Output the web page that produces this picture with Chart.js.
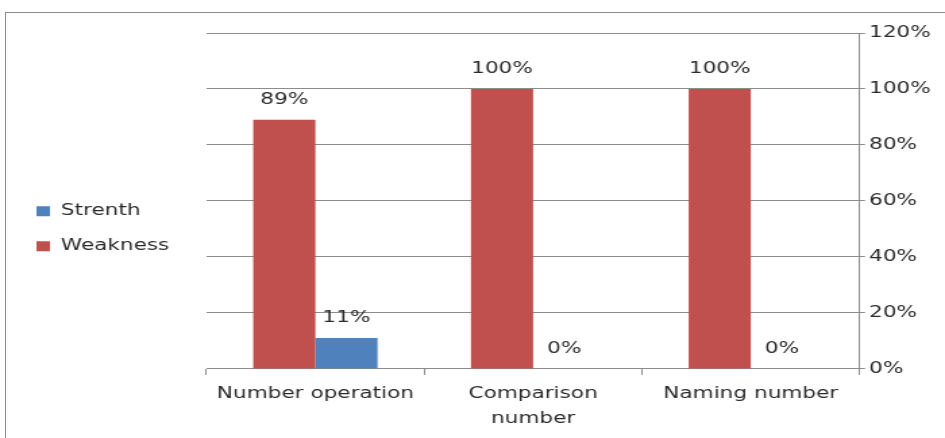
<!DOCTYPE html>
<html>
<head>
<meta charset="utf-8">
<script src="https://cdn.jsdelivr.net/npm/chart.js@4/dist/chart.umd.min.js"></script>
<style>
    html, body { margin: 0; padding: 0; background: #fff; overflow: hidden; }
    #frame {
        position: absolute; left: 5px; top: 12px; width: 960px; height: 450px;
        border: 1px solid #8c8c8c; box-sizing: border-box;
    }
    /* the chart is laid out narrow and widened, which gives the wide lettering */
    #wrap {
        position: absolute; left: 0; top: 0; width: 700px; height: 438px;
        transform: scaleX(1.35); transform-origin: 0 0;
    }
</style>
</head>
<body>
<div id="frame"></div>
<div id="wrap"><canvas id="skillsChart"></canvas></div>
<script>
const categories = [["Number operation"], ["Comparison", "number"], ["Naming number"]];
const weakness = [89, 100, 100];
const strength = [11, 0, 0];
const yTicks = [0, 20, 40, 60, 80, 100, 120];

const textColor = "#2b2b2b";
const lineColor = "#8c8c8c";
const fontFamily = "'DejaVu Sans', sans-serif";

// fixed room for the legend on the left, nudged a bit up
const legendBox = {
    id: "legendBox",
    beforeInit: function (chart) {
        const fit = chart.legend.fit;
        chart.legend.fit = function () {
            fit.call(this);
            this.width = 145;
        };
    },
    afterLayout: function (chart) {
        chart.legend.top -= 6.5;
        chart.legend.bottom -= 6.5;
    },
};

// percent labels above each bar
const valueLabels = {
    id: "valueLabels",
    afterDatasetsDraw: function (chart) {
        const ctx = chart.ctx;
        ctx.save();
        ctx.font = "16px " + fontFamily;
        ctx.fillStyle = textColor;
        ctx.textAlign = "center";
        ctx.textBaseline = "middle";
        chart.data.datasets.forEach((dataset, i) => {
            chart.getDatasetMeta(i).data.forEach((bar, j) => {
                ctx.fillText(dataset.data[j] + "%", bar.x, bar.y - 20);
            });
        });
        ctx.restore();
    },
};

var ctx = document.getElementById("skillsChart");
var skillsChart = new Chart(ctx, {
    type: "bar",
    data: {
        labels: categories,
        datasets: [
            {
                label: "Weakness",
                data: weakness,
                backgroundColor: "#c0504d",
                categoryPercentage: 0.571,
                barPercentage: 1,
            },
            {
                label: "Strenth",
                data: strength,
                backgroundColor: "#4f81bd",
                categoryPercentage: 0.571,
                barPercentage: 1,
            },
        ],
    },
    options: {
        responsive: true,
        maintainAspectRatio: false,
        animation: false,
        layout: {
            padding: { left: 8, right: 7.5, top: 33, bottom: 0.5 },
        },
        plugins: {
            tooltip: { enabled: false },
            legend: {
                position: "left",
                reverse: true,
                labels: {
                    boxWidth: 10,
                    boxHeight: 10,
                    padding: 19,
                    color: textColor,
                    font: { family: fontFamily, size: 16 },
                },
            },
        },
        scales: {
            x: {
                grid: {
                    drawOnChartArea: false,
                    tickLength: 6,
                    color: lineColor,
                },
                border: { color: lineColor },
                ticks: {
                    color: textColor,
                    padding: 6.5,
                    maxRotation: 0,
                    font: { family: fontFamily, size: 16, lineHeight: 1.55 },
                },
            },
            y: {
                position: "right",
                min: 0,
                max: 120,
                afterBuildTicks: function (axis) {
                    axis.ticks = yTicks.map((v) => ({ value: v }));
                },
                grid: { color: lineColor, tickLength: 4 },
                border: { color: lineColor },
                ticks: {
                    color: textColor,
                    padding: 3,
                    font: { family: fontFamily, size: 16 },
                    callback: function (value) {
                        return value + "%";
                    },
                },
            },
        },
    },
    plugins: [legendBox, valueLabels],
});
</script>
</body>
</html>
